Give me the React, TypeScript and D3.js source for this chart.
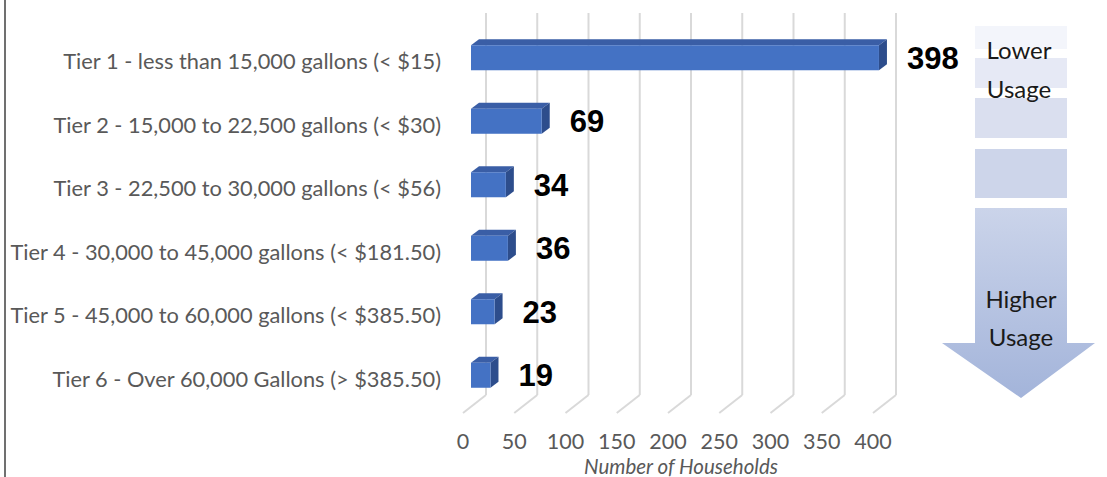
import React from "react";
import * as d3 from "d3";

const categories = [
  "Tier 1 - less than 15,000 gallons (< $15)",
  "Tier 2 - 15,000 to 22,500 gallons (< $30)",
  "Tier 3 - 22,500 to 30,000 gallons (< $56)",
  "Tier 4 - 30,000 to 45,000 gallons (< $181.50)",
  "Tier 5 - 45,000 to 60,000 gallons (< $385.50)",
  "Tier 6 - Over 60,000 Gallons (> $385.50)",
];
const households = [398, 69, 34, 36, 23, 19];
const xTicks = [0, 50, 100, 150, 200, 250, 300, 350, 400];
const axisTitle = "Number of Households";
const arrowTop = ["Lower", "Usage"];
const arrowBottom = ["Higher", "Usage"];

const W = 1107;
const H = 477;

export default function App() {
  // front plane of the 3-D floor
  const x = d3.scaleLinear().domain([0, 400]).range([463, 873]);
  const y = d3
    .scaleBand<string>()
    .domain(categories)
    .range([26, 407])
    .paddingInner(0.606)
    .paddingOuter(0.303);

  const depthX = 23;
  const depthY = -18;
  const barOff = 8;
  const barDX = 8;
  const barDY = -6;
  const gridTop = 13;
  const gridBottom = 395;

  const gray = "#595959";

  // arrow segments
  const ax0 = 975;
  const ax1 = 1067;
  const segs = [
    [26, 49, "#f3f5fb"],
    [58, 88, "#e6e9f5"],
    [98, 138, "#dadfef"],
    [149, 198, "#cdd5ea"],
  ] as const;

  return (
    <svg width={W} height={H} style={{ display: "block", position: "absolute", left: 0, top: 0 }}>
      <defs>
        <linearGradient id="arrowGrad" x1="0" y1="0" x2="0" y2="1">
          <stop offset="0" stopColor="#cbd4ea" />
          <stop offset="1" stopColor="#a3b4da" />
        </linearGradient>
      </defs>
      <rect x={0} y={0} width={W} height={H} fill="#fff" />
      <line x1={5} x2={5} y1={0} y2={H} stroke="#404040" strokeWidth={1.5} />

      {/* gridlines on back wall + floor diagonals */}
      {xTicks.map((t) => {
        const bx = x(t) + depthX;
        return (
          <g key={t}>
            <line x1={bx} x2={bx} y1={gridTop} y2={gridBottom} stroke="#d9d9d9" strokeWidth={2} />
            <line x1={bx} x2={x(t)} y1={gridBottom} y2={gridBottom - depthY} stroke="#d9d9d9" strokeWidth={2} />
          </g>
        );
      })}

      {/* bars */}
      {categories.map((c, i) => {
        const v = households[i];
        const x0 = x(0) + barOff;
        const x1 = x(v) + barOff;
        const y0 = y(c)!;
        const h = y.bandwidth();
        const top = `M${x0},${y0} L${x0 + barDX},${y0 + barDY} L${x1 + barDX},${y0 + barDY} L${x1},${y0} Z`;
        const side = `M${x1},${y0} L${x1 + barDX},${y0 + barDY} L${x1 + barDX},${y0 + h + barDY} L${x1},${y0 + h} Z`;
        return (
          <g key={c}>
            <path d={top} fill="#3a5ea6" />
            <path d={side} fill="#2d4d8c" />
            <rect x={x0} y={y0} width={x1 - x0} height={h} fill="#4472c4" />
            <text
              x={x1 + 28}
              y={y0 + h / 2}
              dy="0.36em"
              fontFamily="'Liberation Sans', Arial, sans-serif"
              fontWeight="bold"
              fontSize={31}
              fill="#000"
            >
              {v}
            </text>
          </g>
        );
      })}

      {/* category labels */}
      {categories.map((c) => (
        <text
          key={c}
          x={441}
          y={y(c)! + y.bandwidth() / 2 + 4}
          dy="0.35em"
          textAnchor="end"
          fontFamily="Lato, sans-serif"
          fontSize={21.8}
          fill={gray}
        >
          {c}
        </text>
      ))}

      {/* x tick labels */}
      {xTicks.map((t) => (
        <text
          key={t}
          x={x(t)}
          y={441}
          dy="0.35em"
          textAnchor="middle"
          fontFamily="Lato, sans-serif"
          fontSize={21.5}
          fill={gray}
        >
          {t}
        </text>
      ))}
      <text
        x={681}
        y={467}
        dy="0.35em"
        textAnchor="middle"
        fontFamily="Lato, sans-serif"
        fontStyle="italic"
        fontSize={20.5}
        fill={gray}
      >
        {axisTitle}
      </text>

      {/* usage arrow */}
      {segs.map(([a, b, col], i) => (
        <rect key={i} x={ax0} y={a} width={ax1 - ax0} height={b - a} fill={col} />
      ))}
      <path
        d={`M${ax0},208 L${ax1},208 L${ax1},343 L1095,343 L1021,398 L942,343 L${ax0},343 Z`}
        fill="url(#arrowGrad)"
      />
      {arrowTop.map((t, i) => (
        <text
          key={"t" + i}
          x={1019}
          y={51 + i * 39}
          dy="0.35em"
          textAnchor="middle"
          fontFamily="Lato, sans-serif"
          fontSize={24}
          fill="#1a1a1a"
        >
          {t}
        </text>
      ))}
      {arrowBottom.map((t, i) => (
        <text
          key={"b" + i}
          x={1021}
          y={300 + i * 38}
          dy="0.35em"
          textAnchor="middle"
          fontFamily="Lato, sans-serif"
          fontSize={24}
          fill="#1a1a1a"
        >
          {t}
        </text>
      ))}
    </svg>
  );
}
